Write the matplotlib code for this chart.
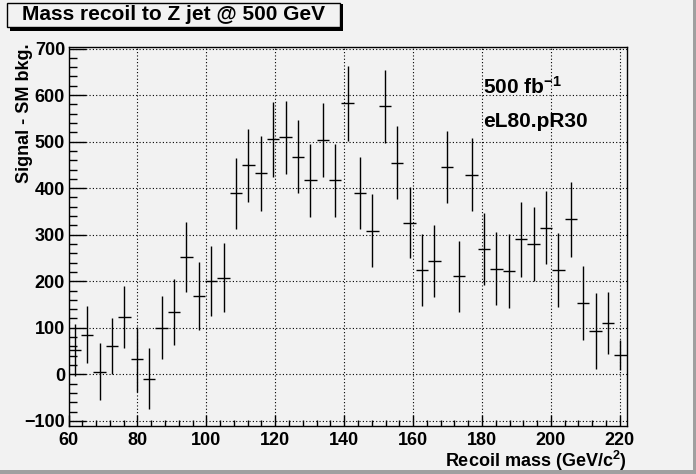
import matplotlib
matplotlib.use("Agg")
import matplotlib.pyplot as plt
from matplotlib.patches import Rectangle
from matplotlib.ticker import MultipleLocator
import numpy as np

# histogram: 45 bins from 60 to 222 GeV
bin_lo = 60.0
bin_width = 3.6
signal = [52, 85, 6, 60, 123, 32, -9, 100, 133, 252, 169, 200, 208, 389, 449, 432,
          505, 509, 468, 417, 503, 417, 582, 389, 309, 576, 455, 326, 224, 244, 445,
          211, 429, 270, 227, 222, 290, 280, 315, 224, 333, 153, 93, 110, 41]
errors = [56, 61, 62, 60, 67, 70, 66, 68, 71, 75, 73, 75, 74, 76, 78, 80,
          80, 79, 78, 78, 80, 79, 81, 77, 78, 79, 79, 77, 77, 77, 77,
          76, 78, 77, 79, 80, 80, 79, 78, 80, 80, 80, 81, 66, 32]

bg = '#f2f2f2'
plt.rcParams['font.family'] = ['Liberation Sans', 'DejaVu Sans']
plt.rcParams['font.weight'] = 'bold'
plt.rcParams['mathtext.fontset'] = 'custom'
plt.rcParams['mathtext.rm'] = 'Liberation Sans:bold'
plt.rcParams['mathtext.bf'] = 'Liberation Sans:bold'
plt.rcParams['mathtext.it'] = 'Liberation Sans:bold'

W, H = 696, 474
fig = plt.figure(figsize=(W / 100, H / 100), dpi=100, facecolor=bg)

# frame in pixels: left 68.5, right 626.7, top 46.7, bottom 426
ax_w = 626.7 - 68.5
ax = fig.add_axes([68.5 / W, (H - 426) / H, ax_w / W, (426 - 46.7) / H])
ax.set_facecolor(bg)

centers = bin_lo + bin_width * (np.arange(len(signal)) + 0.5)
ax.errorbar(centers, signal, xerr=bin_width / 2, yerr=errors, fmt='none',
            ecolor='black', elinewidth=1.0, capsize=0)

ax.set_xlim(60, 222)
ax.set_ylim(-111, 704)

ax.xaxis.set_major_locator(MultipleLocator(20))
ax.xaxis.set_minor_locator(MultipleLocator(4))
ax.yaxis.set_major_locator(MultipleLocator(100))
ax.yaxis.set_minor_locator(MultipleLocator(20))
ax.tick_params(axis='x', which='major', direction='in', length=8, width=1, pad=4, labelsize=13)
ax.tick_params(axis='x', which='minor', direction='in', length=4, width=1)
ax.tick_params(axis='y', which='major', direction='in', length=12, width=1, pad=2.5, labelsize=13)
ax.tick_params(axis='y', which='minor', direction='in', length=6, width=1)
for lab in ax.get_xticklabels() + ax.get_yticklabels():
    lab.set_fontweight('bold')

ax.grid(True, which='major', color='black', linestyle=(0, (1, 2)), linewidth=0.8)
ax.set_axisbelow(True)
for s in ax.spines.values():
    s.set_linewidth(1)

ax.set_xlabel(r'Recoil mass (GeV/c$^{2}$)', fontsize=13, fontweight='bold', loc='right', labelpad=0)
ax.set_ylabel('Signal - SM bkg.', fontsize=13, fontweight='bold', loc='top')
ax.yaxis.set_label_coords((33 - 68.5) / ax_w, 1.01)

fig.text(483 / W, 1 - 94 / H, r'500 fb$^{-1}$', fontsize=15, fontweight='bold', va='baseline')
fig.text(483 / W, 1 - 127 / H, 'eL80.pR30', fontsize=15, fontweight='bold', va='baseline')

# title box with shadow
fig.patches.append(Rectangle((10 / W, 1 - 30.5 / H), 333 / W, 27 / H, transform=fig.transFigure,
                             facecolor='black', edgecolor='black', lw=0))
fig.patches.append(Rectangle((7 / W, 1 - 27 / H), 333 / W, 24 / H, transform=fig.transFigure,
                             facecolor=bg, edgecolor='black', lw=1))
fig.text(173.5 / W, 1 - 15 / H, 'Mass recoil to Z jet @ 500 GeV', fontsize=15, fontweight='bold',
         ha='center', va='center')

# canvas bevel
fig.patches.append(Rectangle((0, 0), 1, 4 / H, transform=fig.transFigure, facecolor='#a0a0a0', lw=0))
fig.patches.append(Rectangle((1 - 3.5 / W, 0), 3.5 / W, 1, transform=fig.transFigure,
                             facecolor='#a0a0a0', lw=0))

fig.savefig('out.png', dpi=100, facecolor=bg)
